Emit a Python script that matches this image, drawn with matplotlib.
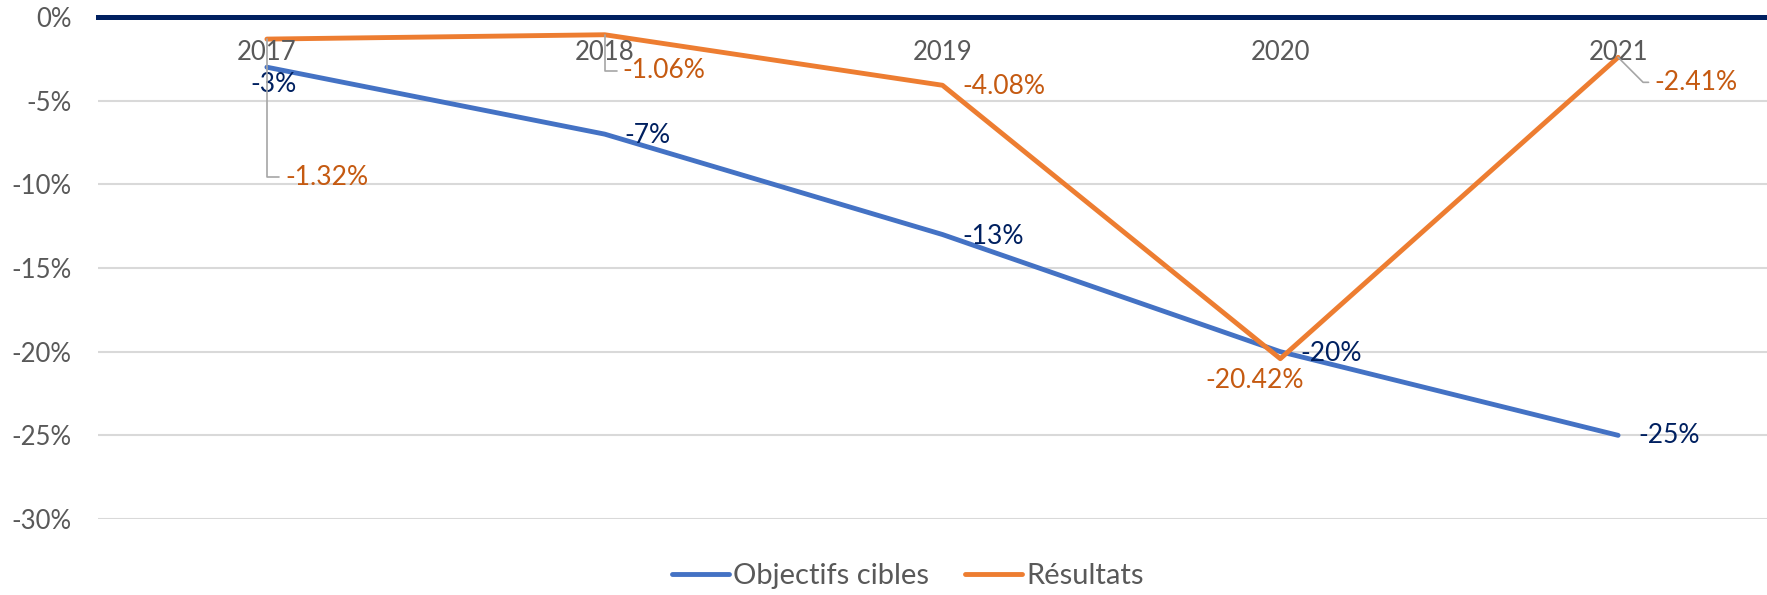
import matplotlib
matplotlib.use("Agg")
import matplotlib.pyplot as plt

plt.rcParams['font.family'] = ['Lato', 'DejaVu Sans']

years = ["2017", "2018", "2019", "2020", "2021"]
objectifs = [-3, -7, -13, -20, -25]
resultats = [-1.32, -1.06, -4.08, -20.42, -2.41]
obj_labels = ["-3%", "-7%", "-13%", "-20%", "-25%"]
res_labels = ["-1.32%", "-1.06%", "-4.08%", "-20.42%", "-2.41%"]
yticks = [0, -5, -10, -15, -20, -25, -30]

blue = "#4472C4"
orange = "#ED7D31"
navy = "#002060"
orange_txt = "#C55A11"
grey = "#595959"

fig = plt.figure(figsize=(17.67, 5.95), dpi=100)
ax = fig.add_axes([98 / 1767, 1 - 519 / 595, (1787 - 98) / 1767, (519 - 17) / 595])

x = list(range(len(years)))
ax.plot(x, objectifs, color=blue, lw=3.5, label="Objectifs cibles", solid_capstyle="round", zorder=3)
ax.plot(x, resultats, color=orange, lw=3.5, label="Résultats", solid_capstyle="round", zorder=3)
ax.axhline(0, color=navy, lw=3.6, zorder=4, clip_on=False)

ax.set_xlim(-0.5, len(years) - 0.5)
ax.set_ylim(-30, 0)
ax.set_yticks(yticks)
ax.set_yticklabels([f"{v}%" for v in yticks])
ax.set_xticks([])
ax.grid(axis="y", color="#D9D9D9", lw=1.5)
ax.set_axisbelow(True)
for s in ax.spines.values():
    s.set_visible(False)
ax.tick_params(axis="y", length=0, pad=19, labelsize=18.5, labelcolor=grey)

# year labels just under the zero line
for i, yr in enumerate(years):
    ax.annotate(yr, (i, 0), xytext=(0, -36), textcoords="offset pixels",
                ha="center", va="center", fontsize=18.5, color=grey, zorder=5)

# blue data labels
blue_off = [(7, -17), (20, -1), (20, -2), (20, -2), (20, 0)]
blue_ha = ["center", "left", "left", "left", "left"]
for i, (v, t) in enumerate(zip(objectifs, obj_labels)):
    ax.annotate(t, (i, v), xytext=blue_off[i], textcoords="offset pixels",
                ha=blue_ha[i], va="center", fontsize=19, color=navy, zorder=5)

# orange data labels
lead = dict(arrowstyle="-", color="#A6A6A6", lw=1.2, shrinkA=2, shrinkB=0)
ax.annotate(res_labels[0], (0, resultats[0]), xytext=(18, -138), textcoords="offset pixels",
            ha="left", va="center", fontsize=19, color=orange_txt, zorder=5,
            arrowprops=dict(lead, connectionstyle="angle,angleA=0,angleB=90", relpos=(0, 0.5)))
ax.annotate(res_labels[1], (1, resultats[1]), xytext=(18, -36), textcoords="offset pixels",
            ha="left", va="center", fontsize=19, color=orange_txt, zorder=5,
            arrowprops=dict(lead, connectionstyle="angle,angleA=0,angleB=90", relpos=(0, 0.5)))
ax.annotate(res_labels[2], (2, resultats[2]), xytext=(20, -1), textcoords="offset pixels",
            ha="left", va="center", fontsize=19, color=orange_txt, zorder=5)
ax.annotate(res_labels[3], (3, resultats[3]), xytext=(-26, -22), textcoords="offset pixels",
            ha="center", va="center", fontsize=19, color=orange_txt, zorder=5)
ax.annotate(res_labels[4], (4, resultats[4]), xytext=(36, -25), textcoords="offset pixels",
            ha="left", va="center", fontsize=19, color=orange_txt, zorder=5,
            arrowprops=dict(lead, connectionstyle="angle,angleA=0,angleB=-45", relpos=(0, 0.5)))

fig.legend(loc="center", bbox_to_anchor=(908 / 1767, 1 - 576 / 595), ncol=2, frameon=False,
           fontsize=21, labelcolor=grey, handlelength=1.95, handletextpad=0.15, columnspacing=1.25)

fig.savefig("out.png", dpi=100)
